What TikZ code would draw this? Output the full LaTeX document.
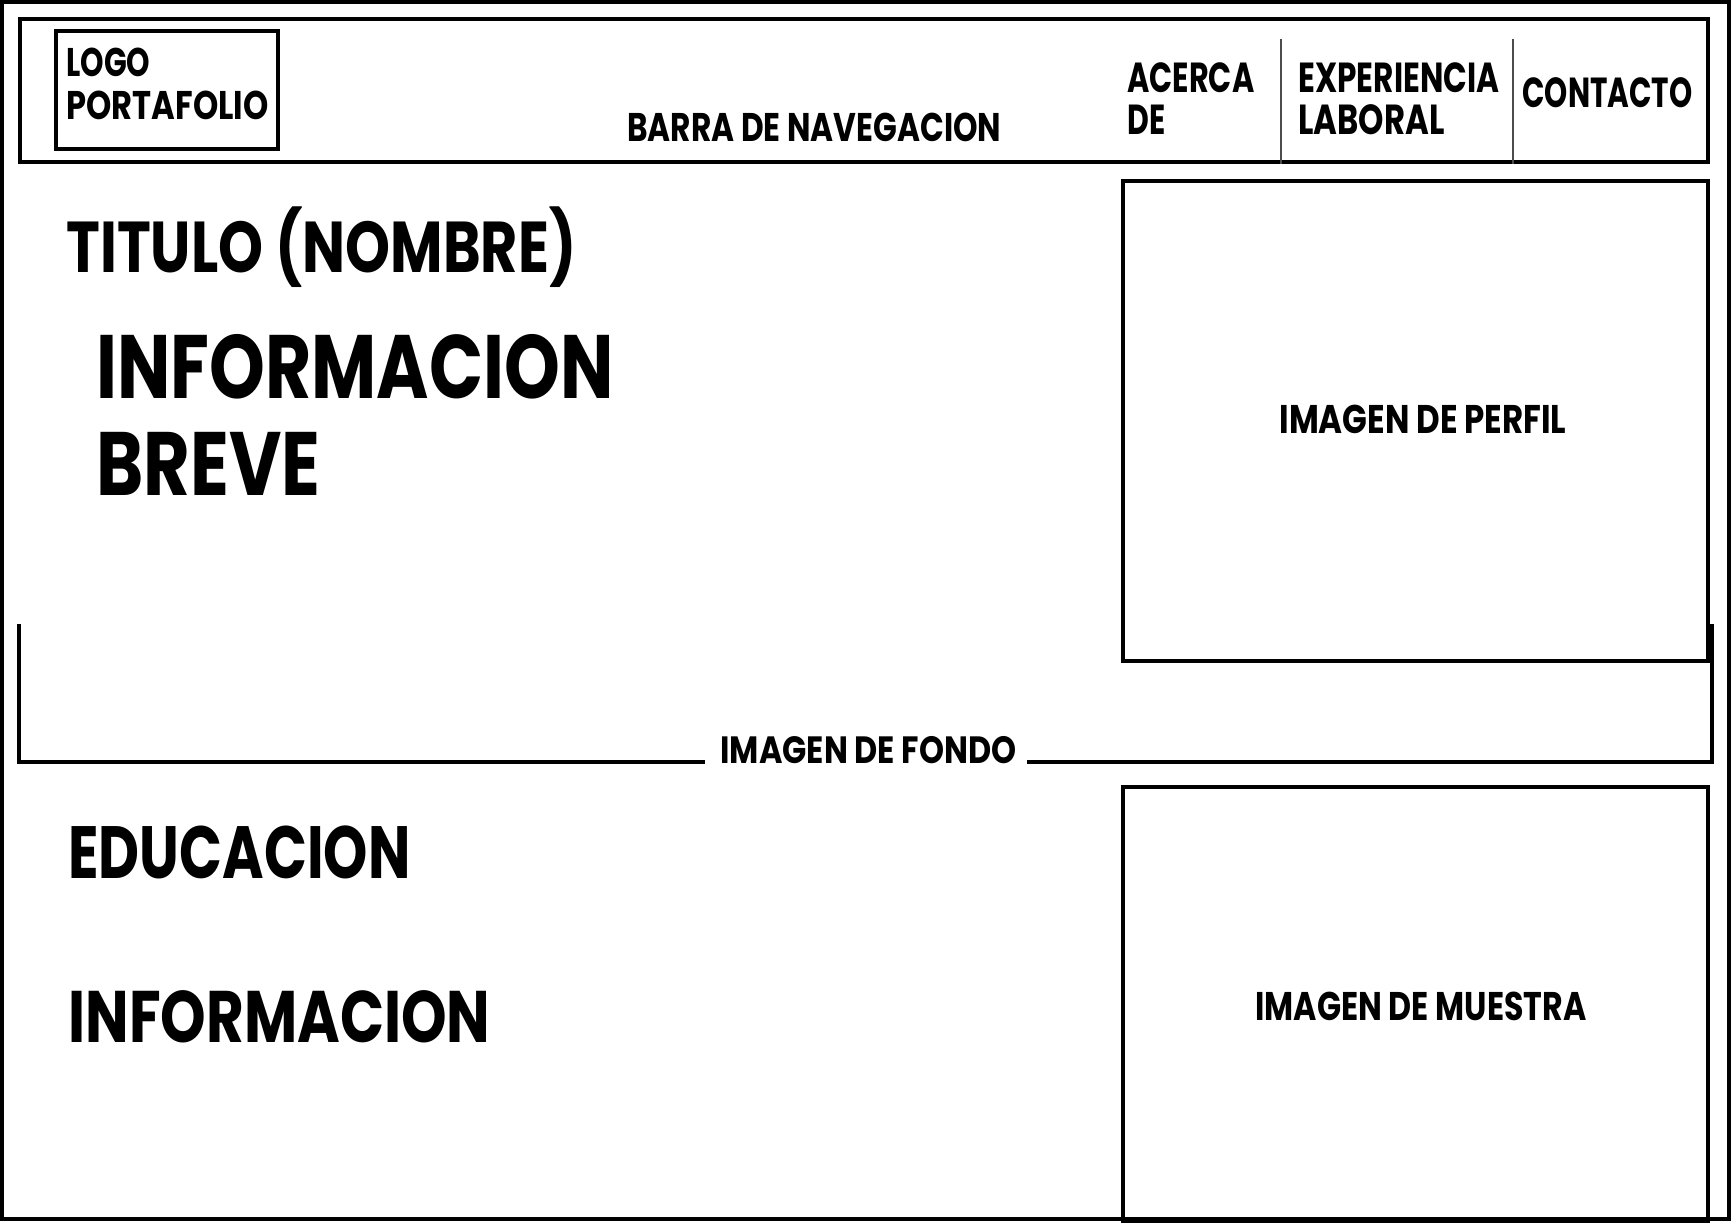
\documentclass[tikz,border=0pt]{standalone}
\usepackage{fontspec}
\usepackage{graphicx}
\newfontfamily\pop{Poppins}
\newsavebox\fitbox
\newcommand\fitx[3]{% #1 target width (pt), #2 font size (pt), #3 text
  \sbox\fitbox{\pop\bfseries\fontsize{#2}{#2}\selectfont #3}%
  \pgfmathsetmacro\fitfac{#1/\the\wd\fitbox}%
  \scalebox{\fitfac}[1]{\usebox\fitbox}}
\begin{document}
\begin{tikzpicture}[x=0.5pt,y=-0.5pt,
  frame/.style={draw=black,line width=2pt},
  sepline/.style={draw=black!70,line width=0.8pt},
  lab/.style={inner sep=0pt,anchor=base west}]
\useasboundingbox[fill=white] (0,0) rectangle (1732,1222);
% outer frame
\draw[frame] (2,2) rectangle (1729,1219);
% navigation bar
\node[frame,inner sep=0pt,minimum width=1688*0.5pt,minimum height=143*0.5pt,anchor=north west] (nav) at (18,17) {};
\node[frame,inner sep=0pt,minimum width=222*0.5pt,minimum height=118*0.5pt,anchor=north west] (logo) at (54,29) {};
\node[lab] (logo1) at (66,76) {\fitx{42}{20}{LOGO}};
\node[lab] (logo2) at (66,119) {\fitx{101}{20}{PORTAFOLIO}};
\node[lab] (barra) at (627,141) {\fitx{187}{20}{BARRA DE NAVEGACION}};
\coordinate (s1t) at (1281,39);
\coordinate (s2t) at (1513,39);
\draw[sepline] (s1t) -- (s1t |- nav.south);
\draw[sepline] (s2t) -- (s2t |- nav.south);
\node[lab] (acerca1) at (1127,92) {\fitx{63.5}{21}{ACERCA}};
\node[lab] (acerca2) at (1127,134) {\fitx{19}{21}{DE}};
\node[lab] (exp1) at (1298,92) {\fitx{100.5}{21}{EXPERIENCIA}};
\node[lab] (exp2) at (1298,134) {\fitx{73}{21}{LABORAL}};
\node[lab] (contacto) at (1522,107) {\fitx{85}{21}{CONTACTO}};
% hero
\node[lab] (titulo) at (66,272) {\fitx{255}{36}{TITULO (NOMBRE)}};
\node[lab] (info1) at (96,398) {\fitx{258.5}{45}{INFORMACION}};
\node[lab] (info2) at (96,495) {\fitx{112}{45}{BREVE}};
\node[frame,inner sep=0pt,minimum width=585*0.5pt,minimum height=480*0.5pt,anchor=north west] (perfil) at (1121,179) {};
\node[lab] (perfiltxt) at (1279,433) {\fitx{143.5}{20}{IMAGEN DE PERFIL}};
% background image bracket
\node[lab] (fondo) at (720,763) {\fitx{148}{19}{IMAGEN DE FONDO}};
\coordinate (bl) at (19,624);
\coordinate (br) at (1712,624);
\coordinate (bll) at (19,762);
\coordinate (brr) at (1712,762);
\draw[line width=1.6pt] (bl) -- (bll) -- (705,762);
\draw[line width=1.6pt] (1027,762) -- (brr) -- (br);
% lower section
\node[lab] (edu) at (68,878) {\fitx{171}{37}{EDUCACION}};
\node[lab] (info3) at (68,1042) {\fitx{211}{36.5}{INFORMACION}};
\node[frame,inner sep=0pt,minimum width=585*0.5pt,minimum height=434*0.5pt,anchor=north west] (muestra) at (1121,785) {};
\node[lab] (muestratxt) at (1255,1020) {\fitx{165.5}{20}{IMAGEN DE MUESTRA}};
\end{tikzpicture}
\end{document}
